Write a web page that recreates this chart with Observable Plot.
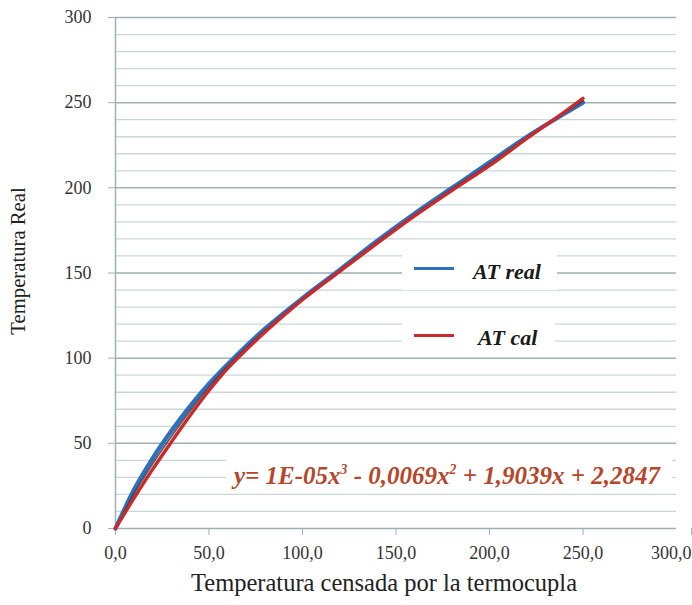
<!DOCTYPE html>
<html>
<head>
<meta charset="utf-8">
<script src="https://cdn.jsdelivr.net/npm/d3@7"></script>
<script src="https://cdn.jsdelivr.net/npm/@observablehq/plot@0.6"></script>
<style>
  html, body { margin: 0; padding: 0; background: #fff; }
  #wrap { position: relative; width: 692px; height: 605px; font-family: "Liberation Serif", "DejaVu Serif", serif; }
  #wrap svg, #wrap svg text { font-family: "Liberation Serif", "DejaVu Serif", serif !important; }
  .box { position: absolute; background: #fff; }
  .leg-line { position: absolute; height: 3px; }
  .leg-text { position: absolute; font-weight: bold; font-style: italic; font-size: 22px; color: #1a1a1a; line-height: 1; }
  .eq { position: absolute; font-weight: bold; font-style: italic; font-size: 25px; color: #b4472c; line-height: 1; white-space: nowrap; }
  .eq sup { font-size: 0.55em; vertical-align: 0.75em; line-height: 0; }
</style>
</head>
<body>
<div id="wrap"></div>
<script>
// ---- data ----
const sensedX = [0, 10, 20, 30, 40, 50, 60, 70, 80, 90, 100, 120, 140, 160, 180, 200, 220, 240, 250];
const realY  = [0, 23, 41.5, 57.5, 72, 85, 96.5, 107.3, 117.3, 126.5, 135.3, 152, 169, 185, 200, 215, 230, 243.5, 250];
const calY   = [0, 18, 35, 51, 66.5, 81, 94, 105, 115.3, 125, 134.3, 151, 167.5, 183.5, 198.5, 213, 229, 244.5, 252.5];
const trendY = [0, 20.5, 38.3, 54.3, 69.3, 83, 95.3, 106.2, 116.3, 125.8, 134.8, 151.5, 168.2, 184.2, 199.2, 214, 229.5, 244, 251];

const xTicks = [0, 50, 100, 150, 200, 250];
const xLastTick = [300];
const yTicks = [0, 50, 100, 150, 200, 250, 300];
const yMinor = [10, 20, 30, 40, 60, 70, 80, 90, 110, 120, 130, 140, 160, 170, 180, 190, 210, 220, 230, 240, 260, 270, 280, 290];

const seriesNames = ["AT real", "AT cal"];
const seriesColors = ["#2f6fbf", "#cc2a2a"];
const xTitle = "Temperatura censada por la termocupla";
const yTitle = "Temperatura Real";
const equation = 'y= 1E-05x<sup>3</sup> - 0,0069x<sup>2</sup> + 1,9039x + 2,2847';

const real = sensedX.map((x, i) => ({x, y: realY[i]}));
const cal = sensedX.map((x, i) => ({x, y: calY[i]}));
const trend = sensedX.map((x, i) => ({x, y: trendY[i]}));

const serif = "'Liberation Serif', 'DejaVu Serif', serif";
const gridMinor = "#cbd7d7";
const gridMajor = "#9fb1b1";
const fmt = d => d.toFixed(1).replace(".", ",");

const chart = Plot.plot({
  width: 692,
  height: 605,
  marginTop: 17,
  marginBottom: 77,
  marginLeft: 115,
  marginRight: 16,
  x: {domain: [0, 300]},
  y: {domain: [0, 300]},
  style: {fontFamily: serif, fontSize: "18px", color: "#333", background: "#fff"},
  marks: [
    Plot.ruleY(yMinor, {stroke: gridMinor, strokeWidth: 1.3}),
    Plot.ruleY(yTicks, {stroke: gridMajor, strokeWidth: 1.5}),
    Plot.ruleX([0], {stroke: gridMajor, strokeWidth: 1.5}),
    Plot.axisY({ticks: yTicks, tickSize: 7, tickPadding: 17, label: null, stroke: gridMajor, fill: "#333", fontSize: 18, fontFamily: serif}),
    Plot.axisX({ticks: xTicks, tickSize: 7, tickPadding: 11, label: null, stroke: gridMajor, fill: "#333", fontSize: 18, fontFamily: serif, tickFormat: fmt}),
    Plot.axisX({ticks: xLastTick, tickSize: 7, tickPadding: 11, label: null, stroke: gridMajor, fill: "#333", fontSize: 18, fontFamily: serif, tickFormat: fmt, textAnchor: "end", dx: 15}),
    Plot.line(real, {x: "x", y: "y", stroke: seriesColors[0], strokeWidth: 4.2, curve: "monotone-x"}),
    Plot.line(trend, {x: "x", y: "y", stroke: "#3a3a3a", strokeWidth: 2, strokeOpacity: 0.8, curve: "monotone-x"}),
    Plot.line(cal, {x: "x", y: "y", stroke: seriesColors[1], strokeWidth: 3.4, curve: "monotone-x"}),
    Plot.text([xTitle], {frameAnchor: "bottom", dx: -12, dy: 62, fontSize: 24.5, fill: "#222", fontFamily: serif}),
    Plot.text([yTitle], {frameAnchor: "left", textAnchor: "middle", rotate: -90, dx: -97, dy: -12, fontSize: 20.7, fill: "#222", fontFamily: serif})
  ]
});

const wrap = document.getElementById("wrap");
wrap.appendChild(chart);

// legend (overlaid on the plot area)
function add(cls, style, html) {
  const d = document.createElement("div");
  d.className = cls;
  Object.assign(d.style, style);
  if (html) d.innerHTML = html;
  wrap.appendChild(d);
  return d;
}
add("box", {left: "402px", top: "253px", width: "155px", height: "37px"});
add("leg-line", {left: "414px", top: "267px", width: "40px", background: seriesColors[0]});
add("leg-text", {left: "473px", top: "261px"}, seriesNames[0]);
add("box", {left: "402px", top: "318px", width: "153px", height: "34px"});
add("leg-line", {left: "414px", top: "334px", width: "40px", background: seriesColors[1]});
add("leg-text", {left: "478px", top: "327px"}, seriesNames[1]);

// equation
add("box", {left: "226px", top: "455px", width: "446px", height: "36px"});
add("eq", {left: "234px", top: "463px"}, equation);
</script>
</body>
</html>
